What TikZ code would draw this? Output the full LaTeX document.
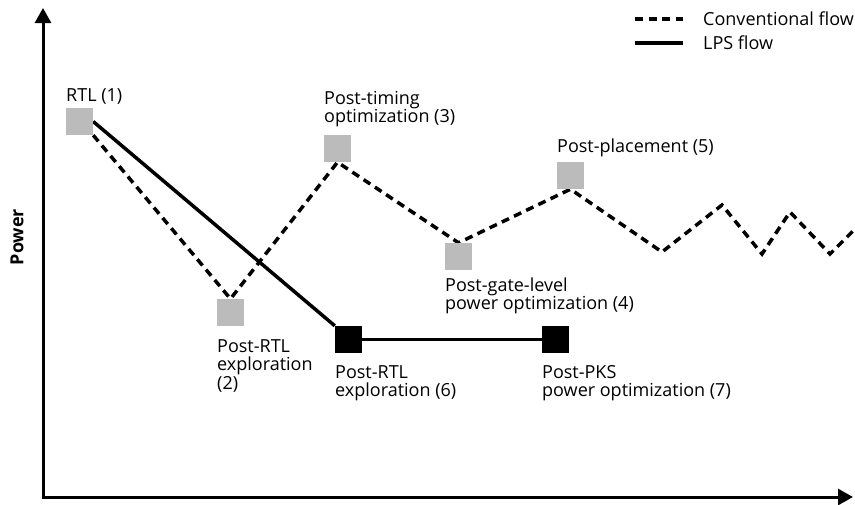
\documentclass[tikz,border=0pt]{standalone}
\usepackage{fontspec}
\setmainfont{Open Sans}
\usetikzlibrary{arrows.meta}
\definecolor{boxgray}{HTML}{BBBBBB}
\begin{document}
\begin{tikzpicture}[x=1pt,y=-1pt,
  sq/.style={rectangle, minimum size=27pt, inner sep=0pt, draw=none},
  convbox/.style={sq, fill=boxgray},
  lpsbox/.style={sq, fill=black},
  lab/.style={anchor=base west, inner sep=0pt, align=left,
    font=\fontsize{18}{18.5}\selectfont},
  dashflow/.style={line width=3.5pt, dash pattern=on 8pt off 5.5pt},
  solidflow/.style={line width=3.5pt},
  axisline/.style={line width=3pt,
    {Triangle[length=15pt,width=16pt]}-{Triangle[length=15pt,width=16pt]}}
]
\useasboundingbox (0,0) rectangle (855,504);

% axes
\coordinate (ytop) at (43,8);
\coordinate (orig) at (43,497);
\coordinate (xend) at (853,497);
\draw[axisline] (ytop) -- (orig) -- (xend);
\node[rotate=90, font=\bfseries\fontsize{18}{18}\selectfont] (ylab) at (17,237) {Power};

% legend
\coordinate (lega) at (635,19);
\coordinate (legb) at (683,19);
\coordinate (legc) at (635,43);
\coordinate (legd) at (683,43);
\draw[dashflow] (lega) -- (legb);
\draw[solidflow] (legc) -- (legd);
\node[lab] (legconv) at (703,25) {Conventional flow};
\node[lab] (leglps) at (703,49) {LPS flow};

% design steps
\node[convbox] (s1) at (79.5,121.5) {};
\node[convbox] (s2) at (230.5,312.5) {};
\node[convbox] (s3) at (337.5,148.5) {};
\node[convbox] (s4) at (458.5,256.5) {};
\node[convbox] (s5) at (570.5,175.5) {};
\node[lpsbox] (s6) at (348.5,339.5) {};
\node[lpsbox] (s7) at (555.5,339.5) {};

% conventional flow tail
\coordinate (t1) at (662,252);
\coordinate (t2) at (722,205);
\coordinate (t3) at (762,254);
\coordinate (t4) at (790,212);
\coordinate (t5) at (830,254);
\coordinate (t6) at (853,231);

% flow lines
\draw[dashflow] (s1.south east) -- (s2.north) -- (s3.south) -- (s4.north)
  -- (s5.south) -- (t1) -- (t2) -- (t3) -- (t4) -- (t5) -- (t6);
\draw[solidflow] (s1.east) -- (s6.north west);
\draw[solidflow] (s6.east) -- (s7.west);

% boxes drawn again over the flow lines
\node[convbox] at (s1) {};
\node[convbox] at (s2) {};
\node[convbox] at (s3) {};
\node[convbox] at (s4) {};
\node[convbox] at (s5) {};
\node[lpsbox] at (s6) {};
\node[lpsbox] at (s7) {};

% labels (anchored at the baseline of their last line)
\node[lab] (l1) at (66,101) {RTL (1)};
\node[lab] (l3) at (324,122.5) {Post-timing\\optimization (3)};
\node[lab] (l5) at (557,152) {Post-placement (5)};
\node[lab] (l4) at (445,309.5) {Post-gate-level\\power optimization (4)};
\node[lab] (l2) at (217,389) {Post-RTL\\exploration\\(2)};
\node[lab] (l6) at (335,396.5) {Post-RTL\\exploration (6)};
\node[lab] (l7) at (542,396.5) {Post-PKS\\power optimization (7)};
\end{tikzpicture}
\end{document}
